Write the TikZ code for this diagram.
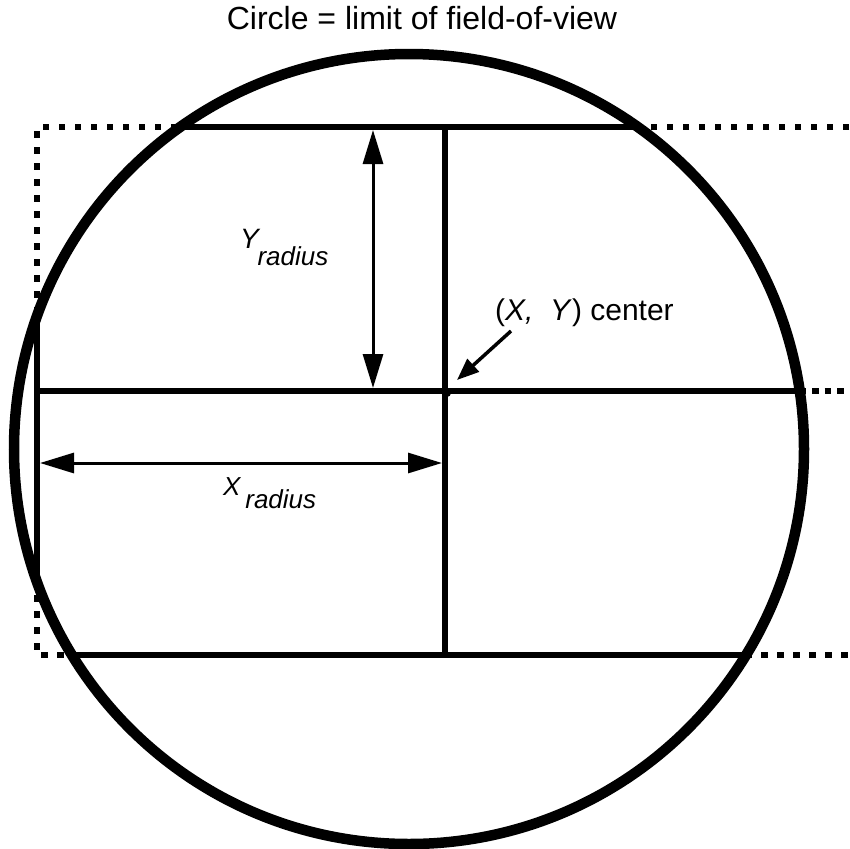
\documentclass[tikz,border=0pt]{standalone}
\usepackage{fontspec}
\setmainfont{Liberation Sans}
\usetikzlibrary{arrows.meta}
\begin{document}
\begin{tikzpicture}[x=1pt,y=-1pt,
  frame/.style={line width=5.5pt},
  outdash/.style={frame, dash pattern=on 6.5pt off 9.5pt},
  middash/.style={frame, dash pattern=on 6.5pt off 6pt},
  dimarrow/.style={line width=3pt,
    {Triangle[length=34pt,width=20pt]}-{Triangle[length=34pt,width=20pt]}},
  ptrarrow/.style={line width=3.5pt, -{Triangle[length=22pt,width=17pt]}},
  fov/.style={line width=10.5pt},
  lab/.style={anchor=base west, inner sep=0pt}]
\useasboundingbox (0,0) rectangle (849,849);
% frame coordinates
\coordinate (TL) at (37,127);
\coordinate (TR) at (849,127);
\coordinate (ML) at (37,391);
\coordinate (MR) at (849,391);
\coordinate (BL) at (37,655);
\coordinate (BR) at (849,655);
\coordinate (VT) at (445,127);
\coordinate (VB) at (445,655);
\coordinate (O) at (409,449);
% dotted (outside the field of view)
\draw[outdash] (TR) -- (TL) -- (BL) -- (BR);
\draw[middash] (ML) -- (MR);
% solid inside the circle
\begin{scope}
  \clip (O) circle[radius=395pt];
  \draw[frame] (TR) -- (TL) -- (BL) -- (BR);
  \draw[frame] (ML) -- (MR);
  \draw[frame] (VT) -- (VB);
\end{scope}
% circle
\draw[fov] (O) circle[radius=395pt];
% center dot
\fill (447,393) circle[radius=4pt];
% dimension arrows
\coordinate (ya1) at (373,130);
\coordinate (ya2) at (373,388);
\coordinate (xa1) at (40,463);
\coordinate (xa2) at (442,463);
\draw[dimarrow] (ya1) -- (ya2);
\draw[dimarrow] (xa1) -- (xa2);
% center pointer
\coordinate (cs) at (511,331);
\coordinate (ce) at (457,380);
\draw[ptrarrow] (cs) -- (ce);
% labels
\node[anchor=base, inner sep=0pt, font=\fontsize{32}{38}\selectfont] (title) at (422,29) {Circle = limit of field-of-view};
\node[lab] (ylab) at (240,248) {\fontsize{28}{30}\selectfont\textit{Y}\kern-3pt\raisebox{-17pt}{\fontsize{26}{28}\selectfont\textit{radius}}};
\node[lab] (xlab) at (223,495) {\fontsize{26}{30}\selectfont\textit{X}\kern4pt\raisebox{-13pt}{\fontsize{26}{28}\selectfont\textit{radius}}};
\node[lab, font=\fontsize{30}{32}\selectfont] (clab) at (495,320) {(\textit{X,\ \ Y}) center};
\end{tikzpicture}
\end{document}
